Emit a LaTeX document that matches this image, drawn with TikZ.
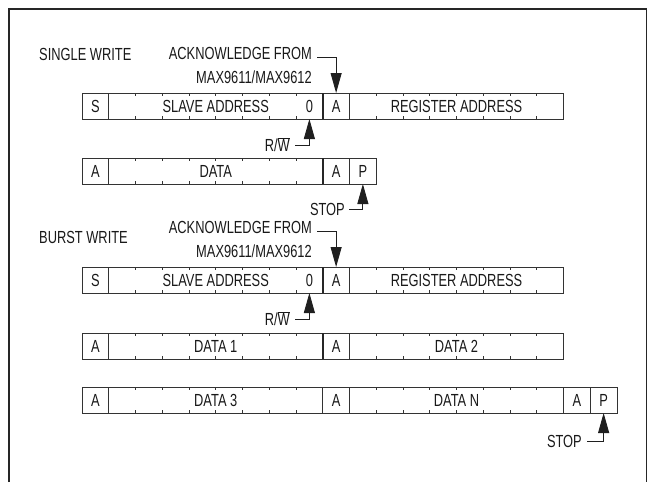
\documentclass[tikz,border=0pt]{standalone}
\usepackage{fontspec}
\setmainfont{Liberation Sans}[FakeStretch=0.735]
\usetikzlibrary{arrows.meta,positioning,calc}

\begin{document}
\begin{tikzpicture}[
    x=1pt, y=-1pt,
    font=\fontsize{17.5}{24}\selectfont,
    text=black!90,
    field/.style={draw=black!80, line width=0.8pt, minimum height=26pt, inner sep=0pt, outer sep=0pt},
    bit/.style={field, minimum width=26.75pt},
    byte/.style={field, minimum width=214pt},
    tag/.style={inner sep=0pt, align=right},
    tick/.style={draw=black!80, line width=0.8pt},
    heavy/.style={draw=black!85, line width=1.6pt},
    pointer/.style={draw=black!88, line width=0.9pt, -{Triangle[length=20pt,width=11pt]}},
    frame/.style={draw=black!85, line width=1.5pt}
]
\useasboundingbox (0,0) rectangle (648,482);

% Outer frame (open at the bottom)
\draw[frame] (9,482) |- (646.5,9) -- (646.5,482);

% Single write
\node[bit, anchor=west] (s1) at (82,106) {S};
\node[byte, right=0pt of s1] (addr1) {SLAVE ADDRESS};
\node[bit, right=0pt of addr1] (ack1) {A};
\node[byte, right=0pt of ack1] (reg1) {REGISTER ADDRESS};
\node (zero1) at ($(addr1.east)+(-13.375,0)$) {0};

\node[bit, below=39pt of s1] (a2) {A};
\node[byte, right=0pt of a2] (data) {DATA};
\node[bit, right=0pt of data] (a3) {A};
\node[bit, right=0pt of a3] (p1) {P};

% Burst write
\node[bit, below=83pt of a2] (s2) {S};
\node[byte, right=0pt of s2] (addr2) {SLAVE ADDRESS};
\node[bit, right=0pt of addr2] (ack2) {A};
\node[byte, right=0pt of ack2] (reg2) {REGISTER ADDRESS};
\node (zero2) at ($(addr2.east)+(-13.375,0)$) {0};

\node[bit, below=40pt of s2] (a4) {A};
\node[byte, right=0pt of a4] (data1) {DATA 1};
\node[bit, right=0pt of data1] (a5) {A};
\node[byte, right=0pt of a5] (data2) {DATA 2};

\node[bit, below=28pt of a4] (a6) {A};
\node[byte, right=0pt of a6] (data3) {DATA 3};
\node[bit, right=0pt of data3] (a7) {A};
\node[byte, right=0pt of a7] (datan) {DATA N};
\node[bit, right=0pt of datan] (a8) {A};
\node[bit, right=0pt of a8] (p2) {P};

% Bit ticks
\foreach \f in {addr1,reg1,data,addr2,reg2,data1,data2,data3,datan}
    \foreach \i in {1,...,7} {
        \draw[tick] ($(\f.north west)!\i/8!(\f.north east)$) -- ++(0,3);
        \draw[tick] ($(\f.south west)!\i/8!(\f.south east)$) -- ++(0,-3);
    }
\foreach \n in {ack1,a3,ack2,a5}
    \draw[heavy] (\n.north west) -- (\n.south west);

% Labels
\node[tag, anchor=west] (single) at (39,54) {SINGLE WRITE};
\node[tag, anchor=east] (from1) at (312,65) {ACKNOWLEDGE FROM\\MAX9611/MAX9612};
\node[tag, anchor=east] (rw1) at (290,145) {R/$\overline{\mbox{W}}$};
\node[tag, anchor=east] (stop1) at (345,209) {STOP};

\node[tag, anchor=west] (burst) at (39,237) {BURST WRITE};
\node[tag, anchor=east] (from2) at (312,239) {ACKNOWLEDGE FROM\\MAX9611/MAX9612};
\node[tag, anchor=east] (rw2) at (290,319) {R/$\overline{\mbox{W}}$};
\node[tag, anchor=east] (stop2) at (582,441) {STOP};

\coordinate (k1) at (317,57);
\coordinate (k2) at (317,231);

% Pointers
\draw[pointer] (k1) -| (ack1.north);
\draw[pointer] ([xshift=5pt]rw1.east) -| (zero1 |- addr1.south);
\draw[pointer] ([xshift=4pt]stop1.east) -| (p1.south);
\draw[pointer] (k2) -| (ack2.north);
\draw[pointer] ([xshift=5pt]rw2.east) -| (zero2 |- addr2.south);
\draw[pointer] ([xshift=5pt]stop2.east) -| (p2.south);

\end{tikzpicture}
\end{document}
